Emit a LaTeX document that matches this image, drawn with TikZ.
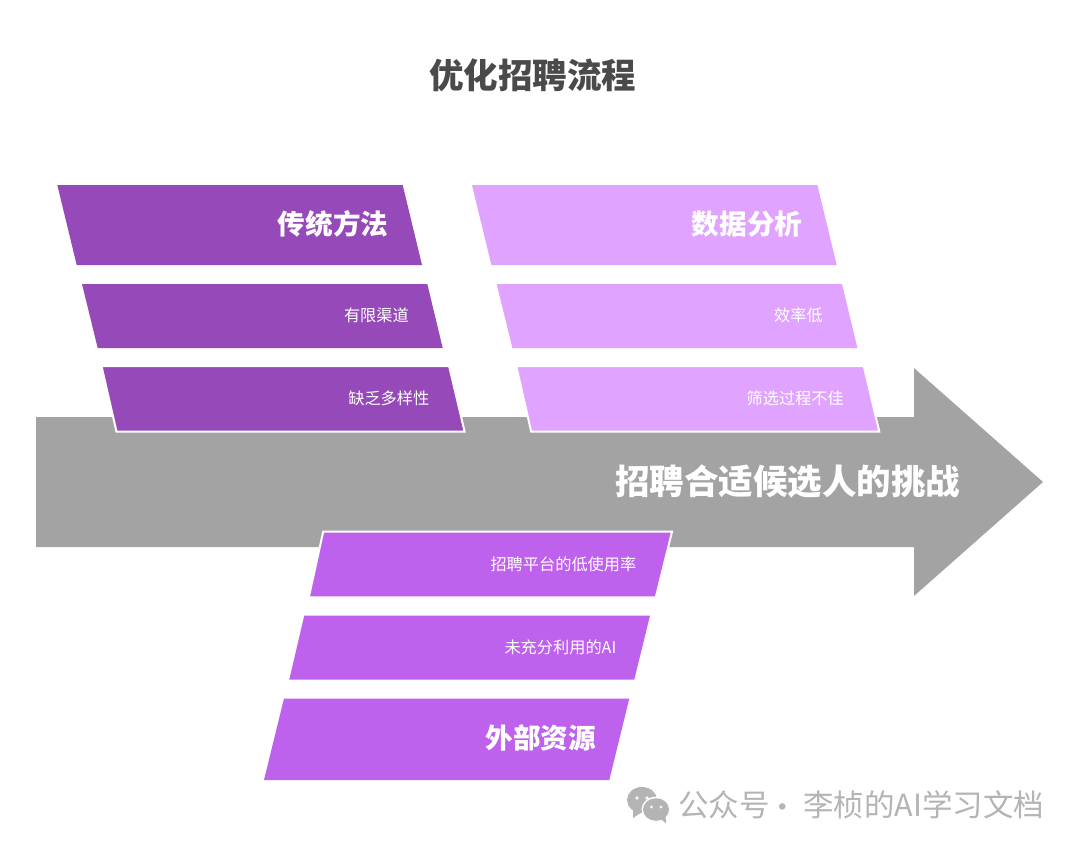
\documentclass[tikz,border=0pt]{standalone}
\usepackage{fontspec}
\setmainfont{Noto Sans CJK SC}
\definecolor{darkp}{HTML}{9649B8}
\definecolor{lightp}{HTML}{E0A3FF}
\definecolor{midp}{HTML}{BE61EC}
\definecolor{arrowgray}{HTML}{A3A3A3}
\definecolor{titlegray}{HTML}{4A4A4A}
\definecolor{markgray}{HTML}{B4B4B4}
\tikzset{
  x=1pt,y=-1pt,
  barw/.style={draw=white,line width=2pt,line join=miter},
  txt/.style={inner sep=0pt,text=white,anchor=east},
  head/.style={txt,font=\fontsize{27.6}{30}\selectfont\bfseries},
  small/.style={txt,font=\fontsize{16.2}{18}\selectfont},
  wm/.style={inner sep=0pt,text=markgray,anchor=west,font=\fontsize{30.5}{33}\selectfont},
}
\begin{document}
\begin{tikzpicture}
\useasboundingbox (0,0) rectangle (1080,849);
\fill[white] (0,0) rectangle (1080,849);
% title
\node[inner sep=0pt,text=titlegray,font=\fontsize{34.5}{38}\selectfont\bfseries] (title) at (532.5,75) {优化招聘流程};
% arrow
\fill[arrowgray] (36,417) -- (914,417) -- (914,368) -- (1043,482) -- (914,596) -- (914,547) -- (36,547) -- cycle;
\node[inner sep=0pt,text=white,font=\fontsize{34.5}{38}\selectfont\bfseries,anchor=east] (main) at (960.5,482) {招聘合适候选人的挑战};
% left column
\fill[darkp] (57.3,185) -- (402.7,185) -- (422,265) -- (76.7,265) -- cycle;
\fill[darkp] (82,284) -- (427.3,284) -- (442.7,348) -- (97.7,348) -- cycle;
\fill[darkp,barw] (101.5,366) -- (449.1,366) -- (464.6,431.7) -- (116.5,431.7) -- cycle;
\node[head] (a1) at (388.5,224) {传统方法};
\node[small] (a2) at (409,315.5) {有限渠道};
\node[small] (a3) at (429.5,398) {缺乏多样性};
% right column
\fill[lightp] (472,185) -- (817.4,185) -- (836.7,265) -- (491.4,265) -- cycle;
\fill[lightp] (496.7,284) -- (842,284) -- (857.4,348) -- (512.4,348) -- cycle;
\fill[lightp,barw] (516.2,366) -- (863.8,366) -- (879.3,431.7) -- (531.2,431.7) -- cycle;
\node[head] (b1) at (802.5,224) {数据分析};
\node[small] (b2) at (823,315.5) {效率低};
\node[small] (b3) at (844,398) {筛选过程不佳};
% bottom column
\fill[midp,barw] (323.2,531.7) -- (672,531.7) -- (655.8,597.3) -- (308.8,597.3) -- cycle;
\fill[midp] (304.3,615.5) -- (650,615.5) -- (634.3,679.5) -- (289.3,679.5) -- cycle;
\fill[midp] (284,698.5) -- (629.3,698.5) -- (609.3,780) -- (264,780) -- cycle;
\node[small] (c1) at (636.5,564) {招聘平台的低使用率};
\node[small] (c2) at (616.5,647) {未充分利用的AI};
\node[head] (c3) at (596,738) {外部资源};
% watermark
\fill[markgray] (642,800) ellipse (15 and 13);
\fill[markgray] (633,809) -- (633,818) -- (642,812) -- cycle;
\fill[white] (656,809.5) ellipse (14.5 and 12.8);
\fill[markgray] (656,809.5) ellipse (13 and 11.3);
\fill[markgray] (661,819) -- (666,823.5) -- (665.5,815) -- cycle;
\fill[white!88!markgray] (637,798) circle (1.9) (647,798) circle (1.9);
\fill[white!88!markgray] (651.5,807) circle (1.7) (661,807) circle (1.7);
\node[wm] (w1) at (678,805) {公众号};
\node[inner sep=0pt,text=markgray,font=\fontsize{30.5}{33}\selectfont,anchor=base] (w2) at (783,818) {·};
\node[wm] (w3) at (803,805) {李桢的AI学习文档};
\end{tikzpicture}
\end{document}
